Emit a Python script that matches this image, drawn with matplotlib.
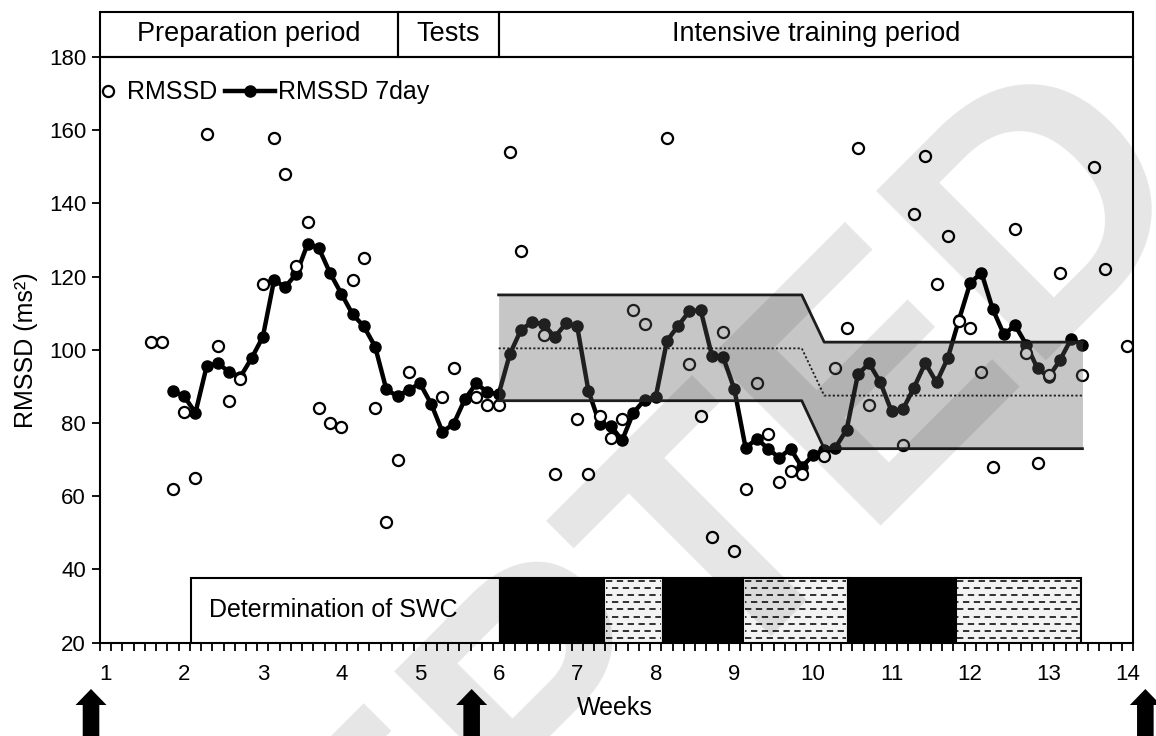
import numpy as np
import matplotlib
matplotlib.use("Agg")
import matplotlib.pyplot as plt
from matplotlib.patches import Rectangle, Polygon
from matplotlib.lines import Line2D
from matplotlib.legend_handler import HandlerLine2D
from matplotlib.transforms import blended_transform_factory, IdentityTransform

plt.rcParams['font.family'] = ['Liberation Sans', 'DejaVu Sans']

nan = np.nan

# daily RMSSD, one value per day (day 0 = first day of week 1), nan = no recording
rmssd_daily = [nan, nan, nan, nan, 102, 102, 62, 83, 65, 159,
               101, 86, 92, nan, 118, 158, 148, 123, 135, 84,
               80, 79, 119, 125, 84, 53, 70, 94, nan, nan,
               87, 95, nan, 87, 85, 85, 154, 127, nan, 104,
               66, nan, 81, 66, 82, 76, 81, 111, 107, nan,
               158, nan, 96, 82, 49, 105, 45, 62, 91, 77,
               64, 67, 66, nan, 71, 95, 106, 155, 85, 35,
               36, 74, 137, 153, 118, 131, 108, 106, 94, 68,
               nan, 133, 99, 69, 93, 121, nan, 93, 150, 122,
               nan, 101]

# 7-day rolling RMSSD
rmssd_7day = [nan, nan, nan, nan, nan, nan, 88.7, 87.3, 82.8, 95.5,
              96.3, 94.0, 92.6, 97.7, 103.5, 119.0, 117.2, 120.8, 129.0, 127.7,
              120.9, 115.3, 109.7, 106.4, 100.9, 89.2, 87.3, 89.1, 90.8, 85.2,
              77.6, 79.8, 86.5, 90.8, 88.5, 87.8, 98.8, 105.5, 107.6, 107.0,
              103.5, 107.2, 106.4, 88.8, 79.8, 79.2, 75.3, 82.8, 86.3, 87.2,
              102.5, 106.6, 110.6, 110.8, 98.4, 98.0, 89.2, 73.2, 75.7, 73.0,
              70.5, 73.0, 68.0, 71.2, 72.7, 73.3, 78.2, 93.3, 96.3, 91.1,
              83.2, 83.7, 89.7, 96.4, 91.1, 97.7, 108.2, 118.2, 121.1, 111.2,
              104.2, 106.7, 101.4, 94.9, 92.6, 97.2, 103.0, 101.3, nan, nan,
              nan, nan]

week_labels = [str(w) for w in range(1, 15)]

# smallest worthwhile change band
swc_days = [35, 62, 64, 87]
swc_mean = [100.4, 100.4, 87.5, 87.5]
swc_low = [86.1, 86.1, 73.0, 73.0]
swc_high = [115.0, 115.0, 102.1, 102.1]

periods = ['Preparation period', 'Tests', 'Intensive training period']
period_edges = [-0.5, 26, 35, 91.5]

# training blocks along the bottom
block_edges = [7.6, 35.1, 44.4, 49.6, 56.8, 66.1, 75.7, 86.9]
block_kinds = ['swc', 'hard', 'easy', 'hard', 'easy', 'hard', 'easy']

test_days = [-1.3, 32.6, 92.6]

days = np.arange(len(rmssd_daily))

fig = plt.figure(figsize=(11.56, 7.36), dpi=100)
ax = fig.add_axes([0.0865, 0.1268, 0.8936, 0.7958])

ax.plot(days, rmssd_7day, '-o', color='black', lw=3.2, ms=8, zorder=3)
ax.plot(days, rmssd_daily, 'o', ls='none', mfc='white', mec='black', mew=1.6, ms=8, zorder=4)

# SWC band drawn on top, semi transparent
ax.fill_between(swc_days, swc_low, swc_high, color='#5c5c5c', alpha=0.35, lw=0, zorder=5)
ax.plot(swc_days, swc_high, color='#1e1e1e', lw=2, zorder=6)
ax.plot(swc_days, swc_low, color='#1e1e1e', lw=2, zorder=6)
ax.plot(swc_days, swc_mean, color='#1e1e1e', lw=1.3, ls=(0, (1.2, 1.2)), zorder=6)

# bottom blocks
block_top = 37.7
for a, b, kind in zip(block_edges[:-1], block_edges[1:], block_kinds):
    face = 'black' if kind == 'hard' else ('white' if kind == 'swc' else '#f3f3f3')
    ax.add_patch(Rectangle((a, 20), b - a, block_top - 20, facecolor=face,
                           edgecolor='black', lw=1.5, zorder=7))
    if kind == 'easy':
        for i, yy in enumerate(np.arange(21.3, block_top - 0.5, 1.95)):
            ax.plot([a + 0.15, b - 0.15], [yy, yy], color='#222222', lw=1.3,
                    ls=(2.7 * (i % 2), (3.5, 2.5)), zorder=8)
    if kind == 'swc':
        ax.text(a + 1.6, (20 + block_top) / 2, 'Determination of SWC', ha='left',
                va='center', fontsize=18, zorder=9)

ax.set_xlim(-0.5, 91.5)
ax.set_ylim(20, 180)
ax.set_yticks(np.arange(20, 181, 20))
ax.set_xticks(np.arange(0, 92, 7))
ax.set_xticklabels(week_labels)
ax.set_xticks(np.arange(-0.5, 92, 1), minor=True)
ax.tick_params(axis='x', which='major', length=0, pad=15, labelsize=16)
ax.tick_params(axis='x', which='minor', length=6, width=1.3, direction='out')
ax.tick_params(axis='y', length=6, width=1.3, direction='out', labelsize=16, pad=4)
for s in ax.spines.values():
    s.set_linewidth(1.5)
ax.set_ylabel('RMSSD (ms²)', fontsize=18, labelpad=8)

# period header above plot
trans = blended_transform_factory(ax.transData, ax.transAxes)
for name, a, b in zip(periods, period_edges[:-1], period_edges[1:]):
    ax.add_patch(Rectangle((a, 1.0), b - a, 0.0768, transform=trans, fill=False,
                           edgecolor='black', lw=1.5, clip_on=False))
    ax.text((a + b) / 2, 1.0384, name, transform=trans, ha='center', va='center', fontsize=19.5)

# legend
h_daily = Line2D([], [], ls='none', marker='o', mfc='white', mec='black', mew=1.6, ms=8)
h_avg = Line2D([], [], color='black', lw=3.2, marker='o', ms=8)
ax.legend([h_daily, h_avg], ['RMSSD', 'RMSSD 7day'], ncol=2, loc='upper left',
          bbox_to_anchor=(-0.026, 0.96), frameon=False, fontsize=18,
          handlelength=2.0, handletextpad=0.15, columnspacing=0.3, borderpad=0,
          borderaxespad=0, handler_map={h_daily: HandlerLine2D(xpad=0.8)})

fig.text(615 / 1156, 1 - 708 / 736, 'Weeks', ha='center', va='center', fontsize=18)

# test arrows below the axis
H = fig.bbox.height
for d in test_days:
    xc = ax.transData.transform((d, 20))[0]
    top = H - 689
    pts = [(xc - 15.5, top - 16), (xc, top), (xc + 15.5, top - 16), (xc + 8.3, top - 16),
           (xc + 8.3, -5), (xc - 8.3, -5), (xc - 8.3, top - 16)]
    fig.add_artist(Polygon(pts, closed=True, facecolor='black', edgecolor='none',
                           transform=IdentityTransform()))

# watermark
fig.text(526 / 1156, 1 - 872 / 736, 'ACCEPTED', rotation=45, rotation_mode='anchor',
         ha='center', va='baseline', fontsize=252, fontweight='bold', color='black',
         alpha=0.1, zorder=10)

fig.savefig('out.png', dpi=100)
